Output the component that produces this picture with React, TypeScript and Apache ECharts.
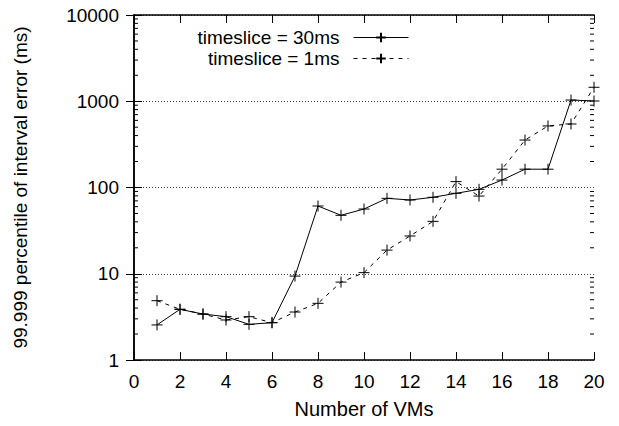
import React, { useEffect, useRef } from "react";
import * as echarts from "echarts";

const vmCounts = [1, 2, 3, 4, 5, 6, 7, 8, 9, 10, 11, 12, 13, 14, 15, 16, 17, 18, 19, 20];
const slice30ms = [2.55, 3.87, 3.41, 3.18, 2.59, 2.71, 9.4, 61, 47.6, 56.3, 74.9, 71.6, 77, 85.6, 95.2, 122, 163, 163, 1033, 1007];
const slice1ms = [4.87, 3.87, 3.41, 2.91, 3.18, 2.71, 3.6, 4.54, 8.0, 10.3, 18.8, 27.4, 40.5, 117, 79.6, 163, 355, 517, 545, 1452];
const seriesNames = ["timeslice = 30ms", "timeslice = 1ms"];
const minorMultipliers = [2, 3, 4, 5, 6, 7, 8, 9];
const decades = [1, 10, 100, 1000];

const FONT = "Liberation Sans";
const FS = 19;
const PLUS = "path://M0,5L10,5M5,0L5,10";

export default function App() {
  const ref = useRef<HTMLDivElement>(null);
  useEffect(() => {
    if (!ref.current) return;
    const chart = echarts.init(ref.current, null, { renderer: "svg" });
    const minorData: number[][] = [];
    decades.forEach((d) => minorMultipliers.forEach((m) => minorData.push([0, d * m])));
    const axisLine = { show: true, lineStyle: { color: "#000", width: 1.5 } };
    const tick = { show: true, inside: true, length: 8, lineStyle: { color: "#000", width: 1 } };
    chart.setOption({
      animation: false,
      backgroundColor: "#fff",
      textStyle: { fontFamily: FONT },
      grid: { left: 134, right: 25, top: 15, bottom: 66, containLabel: false },
      legend: {
        data: seriesNames,
        orient: "vertical",
        align: "right",
        right: 205,
        top: 22,
        itemWidth: 55,
        itemHeight: 12,
        itemGap: 0,
        lineStyle: { width: 1 },
        textStyle: { fontFamily: FONT, fontSize: FS, color: "#000", lineHeight: 21, padding: [0, 9, 0, 0] },
      },
      xAxis: [
        {
          type: "value",
          min: 0,
          max: 20,
          interval: 2,
          position: "bottom",
          axisLine,
          axisTick: tick,
          splitLine: { show: false },
          axisLabel: { fontFamily: FONT, fontSize: FS, color: "#000", margin: 12 },
          name: "Number of VMs",
          nameLocation: "middle",
          nameGap: 39,
          nameTextStyle: { fontFamily: FONT, fontSize: 20, color: "#000" },
        },
        {
          type: "value",
          min: 0,
          max: 20,
          interval: 2,
          position: "top",
          axisLine,
          axisTick: tick,
          splitLine: { show: false },
          axisLabel: { show: false },
        },
      ],
      yAxis: [
        {
          type: "log",
          logBase: 10,
          min: 1,
          max: 10000,
          position: "left",
          axisLine,
          axisTick: tick,
          splitLine: { show: true, lineStyle: { color: "#444", type: [1, 2], width: 1 } },
          axisLabel: { fontFamily: FONT, fontSize: FS, color: "#000", margin: 15, formatter: (v: number) => String(v) },
          name: "99.999 percentile of interval error (ms)",
          nameLocation: "middle",
          nameGap: 104,
          nameTextStyle: { fontFamily: FONT, fontSize: 19, color: "#000" },
        },
        {
          type: "log",
          logBase: 10,
          min: 1,
          max: 10000,
          position: "right",
          axisLine,
          axisTick: tick,
          splitLine: { show: false },
          axisLabel: { show: false },
        },
      ],
      series: [
        {
          name: seriesNames[0],
          type: "line",
          data: vmCounts.map((v, i) => [v, slice30ms[i]]),
          symbol: PLUS,
          symbolSize: 11,
          lineStyle: { color: "#000", width: 1, type: "solid" },
          itemStyle: { color: "#000", borderColor: "#000", borderWidth: 1 },
          z: 3,
        },
        {
          name: seriesNames[1],
          type: "line",
          data: vmCounts.map((v, i) => [v, slice1ms[i]]),
          symbol: PLUS,
          symbolSize: 11,
          lineStyle: { color: "#000", width: 1, type: [4, 5] },
          itemStyle: { color: "#000", borderColor: "#000", borderWidth: 1 },
          z: 3,
        },
        {
          type: "custom",
          data: minorData,
          clip: false,
          silent: true,
          z: 4,
          renderItem: (params: any, api: any) => {
            const p = api.coord([0, api.value(1)]);
            const cs = params.coordSys;
            const y = p[1];
            return {
              type: "group",
              children: [
                { type: "line", shape: { x1: cs.x, y1: y, x2: cs.x + 4, y2: y }, style: { stroke: "#000", lineWidth: 1 } },
                { type: "line", shape: { x1: cs.x + cs.width - 4, y1: y, x2: cs.x + cs.width, y2: y }, style: { stroke: "#000", lineWidth: 1 } },
              ],
            };
          },
        },
      ],
    });
    return () => chart.dispose();
  }, []);
  return <div ref={ref} style={{ width: 619, height: 426, position: "absolute", left: 0, top: 0 }} />;
}
